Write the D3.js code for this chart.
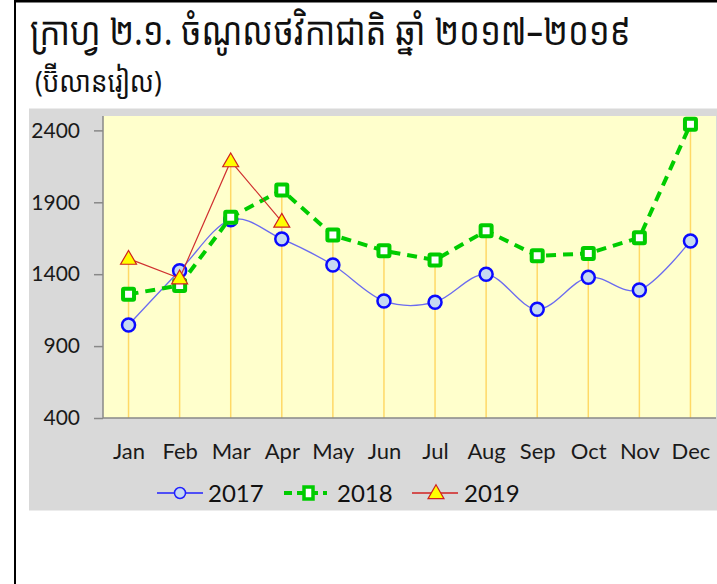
<!DOCTYPE html>
<html>
<head>
<meta charset="utf-8">
<script src="https://cdn.jsdelivr.net/npm/d3@7"></script>
<style>
  body { margin: 0; background: #fff; }
  svg { display: block; }
</style>
</head>
<body>
<svg id="chart" width="717" height="584"></svg>
<script>
var months = ['Jan', 'Feb', 'Mar', 'Apr', 'May', 'Jun', 'Jul', 'Aug', 'Sep', 'Oct', 'Nov', 'Dec'];
var v2017 = [1047, 1424, 1778, 1645, 1464, 1214, 1205, 1399, 1156, 1378, 1290, 1631];
var v2018 = [1260, 1322, 1796, 1985, 1672, 1563, 1498, 1702, 1528, 1544, 1654, 2443];
var v2019 = [1508, 1372, 2186, 1766];
var yTicks = [400, 900, 1400, 1900, 2400];
var titleText = 'ក្រាហ្វ ២.១. ចំណូលថវិកាជាតិ ឆ្នាំ ២០១៧–២០១៩';
var subtitleText = '(ប៊ីលានរៀល)';

var svg = d3.select('#chart');
var khmerFont = '"Khmer OS", "Khmer OS System", "Noto Sans Khmer", "Noto Serif Khmer", "Noto Sans", sans-serif';
var latin = 'Lato, "Open Sans", sans-serif';

// outer frame
svg.append('rect').attr('x', 14).attr('y', 0).attr('width', 2).attr('height', 584).attr('fill', '#000');
svg.append('rect').attr('x', 14).attr('y', 0).attr('width', 703).attr('height', 2.5).attr('fill', '#000');

// titles (stretched a little, the original font is taller)
svg.append('text')
  .attr('transform', 'translate(30,45) scale(1,1.2)')
  .style('font-family', khmerFont).style('font-size', '33px').attr('fill', '#111')
  .text(titleText);
svg.append('text')
  .attr('transform', 'translate(35,92) scale(1,1.12)')
  .style('font-family', khmerFont).style('font-size', '26px').attr('fill', '#111')
  .text(subtitleText);

// grey panel and plot area
svg.append('rect').attr('x', 29).attr('y', 108.5).attr('width', 688).attr('height', 402).attr('fill', '#d9d9d9');
var plot = { left: 103, right: 716, top: 116, bottom: 418 };
svg.append('rect')
  .attr('x', plot.left).attr('y', plot.top)
  .attr('width', plot.right - plot.left).attr('height', plot.bottom - plot.top)
  .attr('fill', '#ffffcc');

var x = d3.scalePoint().domain(months).range([plot.left, plot.right]).padding(0.5);
var y = d3.scaleLinear().domain([400, 2500]).range([plot.bottom, plot.top]);

// drop lines from the highest point to the axis
var tops = months.map(function(m, i) {
  return d3.max([v2017[i], v2018[i], v2019[i]].filter(function(v) { return v != null; }));
});
svg.append('g').selectAll('line').data(months).enter().append('line')
  .attr('x1', d => x(d)).attr('x2', d => x(d))
  .attr('y1', (d, i) => y(tops[i])).attr('y2', plot.bottom)
  .attr('stroke', '#ffd966').attr('stroke-width', 1.5);

// axes
var yAxis = svg.append('g')
  .attr('transform', 'translate(' + plot.left + ',0)')
  .call(d3.axisLeft(y).tickValues(yTicks).tickFormat(d3.format('d'))
    .tickSize(9).tickSizeOuter(0).tickPadding(14));
yAxis.select('.domain').attr('d', 'M0,' + plot.top + 'V' + plot.bottom);
yAxis.selectAll('line').attr('stroke', '#888').attr('stroke-width', 1.5);
yAxis.select('.domain').attr('stroke', '#888').attr('stroke-width', 1.5);
yAxis.selectAll('text').style('font-family', latin).style('font-size', '21px').attr('fill', '#1a1a1a');

var xAxis = svg.append('g')
  .attr('transform', 'translate(0,' + plot.bottom + ')')
  .call(d3.axisBottom(x).tickSize(0).tickPadding(25));
xAxis.select('.domain').attr('d', 'M' + plot.left + ',0H' + plot.right)
  .attr('stroke', '#888').attr('stroke-width', 1.5);
xAxis.selectAll('text').style('font-family', latin).style('font-size', '22px').attr('fill', '#1a1a1a');

// series
var pts = function(vals) { return vals.map(function(v, i) { return [x(months[i]), y(v)]; }); };

var tri = d3.symbol().type(d3.symbolTriangle).size(110);

// 2017
svg.append('path')
  .attr('d', d3.line().curve(d3.curveCatmullRom.alpha(0))(pts(v2017)))
  .attr('fill', 'none').attr('stroke', '#6b6bf0').attr('stroke-width', 1.3);
svg.append('g').selectAll('circle').data(v2017).enter().append('circle')
  .attr('cx', (d, i) => x(months[i])).attr('cy', d => y(d)).attr('r', 6.5)
  .attr('fill', '#c6d9f1').attr('stroke', '#0a0aff').attr('stroke-width', 2.5);

// 2018
svg.append('path')
  .attr('d', d3.line()(pts(v2018)))
  .attr('fill', 'none').attr('stroke', '#00cc00').attr('stroke-width', 4)
  .attr('stroke-dasharray', '10,7');
svg.append('g').selectAll('rect').data(v2018).enter().append('rect')
  .attr('x', (d, i) => x(months[i]) - 5.5).attr('y', d => y(d) - 5.5)
  .attr('width', 11).attr('height', 11).attr('rx', 1)
  .attr('fill', '#fff').attr('stroke', '#00cc00').attr('stroke-width', 4);

// 2019
svg.append('path')
  .attr('d', d3.line()(pts(v2019)))
  .attr('fill', 'none').attr('stroke', '#d03030').attr('stroke-width', 1.2);
svg.append('g').selectAll('path').data(v2019).enter().append('path')
  .attr('d', tri)
  .attr('transform', (d, i) => 'translate(' + x(months[i]) + ',' + (y(d) + 1) + ')')
  .attr('fill', '#ffff00').attr('stroke', '#d02020').attr('stroke-width', 1.2);

// legend
var legend = svg.append('g').style('font-family', latin).style('font-size', '24px');
var ly = 493;
legend.append('line').attr('x1', 157).attr('x2', 203).attr('y1', ly).attr('y2', ly)
  .attr('stroke', '#2020ff').attr('stroke-width', 1.5);
legend.append('circle').attr('cx', 180).attr('cy', ly).attr('r', 5.5)
  .attr('fill', '#c6d9f1').attr('stroke', '#2020ff').attr('stroke-width', 1.5);
legend.append('text').attr('x', 208).attr('y', ly + 9).attr('fill', '#111').text('2017');

legend.append('line').attr('x1', 284).attr('x2', 327).attr('y1', ly).attr('y2', ly)
  .attr('stroke', '#00cc00').attr('stroke-width', 4).attr('stroke-dasharray', '8,5');
legend.append('rect').attr('x', 304).attr('y', ly - 6).attr('width', 9).attr('height', 12)
  .attr('fill', '#fff').attr('stroke', '#00cc00').attr('stroke-width', 3.5);
legend.append('text').attr('x', 337).attr('y', ly + 9).attr('fill', '#111').text('2018');

legend.append('line').attr('x1', 412).attr('x2', 458).attr('y1', ly).attr('y2', ly)
  .attr('stroke', '#d02020').attr('stroke-width', 1.5);
legend.append('path').attr('d', tri)
  .attr('transform', 'translate(436,' + (ly + 1) + ')')
  .attr('fill', '#ffff00').attr('stroke', '#d02020').attr('stroke-width', 1.2);
legend.append('text').attr('x', 464).attr('y', ly + 9).attr('fill', '#111').text('2019');
</script>
</body>
</html>
